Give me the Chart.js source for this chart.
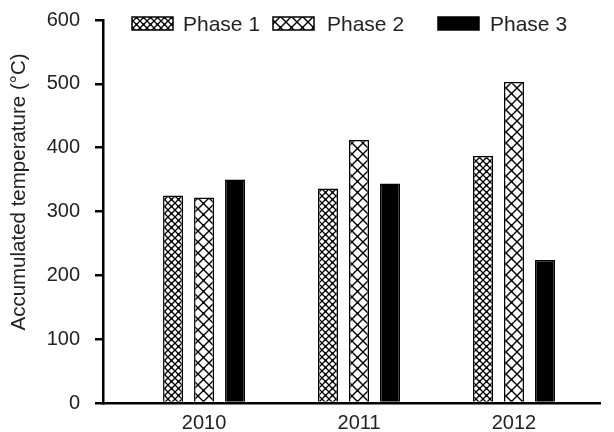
<!DOCTYPE html>
<html>
<head>
<meta charset="utf-8">
<script src="https://cdn.jsdelivr.net/npm/chart.js@4"></script>
<style>
  html, body { margin: 0; padding: 0; background: #fff; }
  #wrap { width: 614px; height: 432px; }
</style>
</head>
<body>
<div id="wrap"><canvas id="chart" width="614" height="432"></canvas></div>
<script>
// data
const years = ['2010', '2011', '2012'];
const phase1 = [325, 336, 387];
const phase2 = [322, 412, 503];
const phase3 = [350, 344, 224];
const seriesNames = ['Phase 1', 'Phase 2', 'Phase 3'];
const yTicks = [0, 100, 200, 300, 400, 500, 600];
const yTitle = 'Accumulated temperature (°C)';

const FONT = 'Liberation Sans, Arial, sans-serif';

// lattice fill like the print hatching
function makeLattice(size, lw) {
  const c = document.createElement('canvas');
  c.width = size; c.height = size;
  const g = c.getContext('2d');
  g.fillStyle = '#fff';
  g.fillRect(0, 0, size, size);
  g.strokeStyle = '#000';
  g.lineWidth = lw;
  g.beginPath();
  g.moveTo(0, 0); g.lineTo(size, size);
  g.moveTo(size, 0); g.lineTo(0, size);
  g.stroke();
  g.fillStyle = '#000';
  g.fillRect(size / 2 - 1, size / 2 - 1, 2, 2);
  return g.createPattern(c, 'repeat');
}

const ctx = document.getElementById('chart').getContext('2d');
const fills = [makeLattice(7, 1.3), makeLattice(11, 1.4), '#000'];
const values = [phase1, phase2, phase3];

// legend drawn over the plot and the y title, as in the figure
const legendPlugin = {
  id: 'topLegend',
  afterDraw(chart) {
    const c = chart.ctx;
    const spots = [[132, 183], [273, 327], [438, 490]];
    c.save();
    c.font = '21px ' + FONT;
    c.textBaseline = 'middle';
    seriesNames.forEach((name, i) => {
      const [bx, tx] = spots[i];
      c.fillStyle = fills[i];
      c.fillRect(bx, 17, 41, 13);
      c.strokeStyle = '#000';
      c.lineWidth = 1.5;
      c.strokeRect(bx, 17, 41, 13);
      c.fillStyle = '#222';
      c.fillText(name, tx, 25);
    });
    // y axis title
    c.translate(19, 192);
    c.rotate(-Math.PI / 2);
    c.textAlign = 'center';
    c.font = '20.5px ' + FONT;
    c.fillText(yTitle, 0, 0);
    c.restore();
  }
};

new Chart(ctx, {
  type: 'bar',
  data: {
    datasets: seriesNames.map((name, i) => ({
      label: name,
      data: values[i].map((v, j) => ({ x: j, y: v })),
      backgroundColor: fills[i],
      borderColor: '#000',
      borderWidth: 1.5,
      categoryPercentage: 0.6,
      barPercentage: 0.645
    }))
  },
  options: {
    responsive: false,
    animation: false,
    layout: { padding: { top: 20, right: 14, left: 0, bottom: 0 } },
    plugins: {
      legend: { display: false },
      tooltip: { enabled: false }
    },
    scales: {
      x: {
        type: 'linear',
        min: -0.652,
        max: 2.555,
        offset: false,
        afterBuildTicks: s => { s.ticks = years.map((y, i) => ({ value: i })); },
        afterFit: s => { s.height = 29; s.paddingLeft = 0; s.paddingRight = 0; },
        ticks: {
          callback: v => years[v],
          color: '#222',
          font: { family: FONT, size: 20 },
          padding: 0,
          maxRotation: 0
        },
        grid: { display: false },
        border: { display: true, color: '#000', width: 2.5 }
      },
      y: {
        min: 0,
        max: 600,
        afterBuildTicks: s => { s.ticks = yTicks.map(v => ({ value: v })); },
        afterFit: s => { s.width = 103; s.paddingTop = 0; s.paddingBottom = 0; },
        ticks: {
          color: '#222',
          font: { family: FONT, size: 20 },
          padding: 15
        },
        grid: { drawOnChartArea: false, drawTicks: true, tickLength: 8, color: '#000', lineWidth: 2.5 },
        border: { display: true, color: '#000', width: 2.5 }
      }
    }
  },
  plugins: [legendPlugin]
});
</script>
</body>
</html>
